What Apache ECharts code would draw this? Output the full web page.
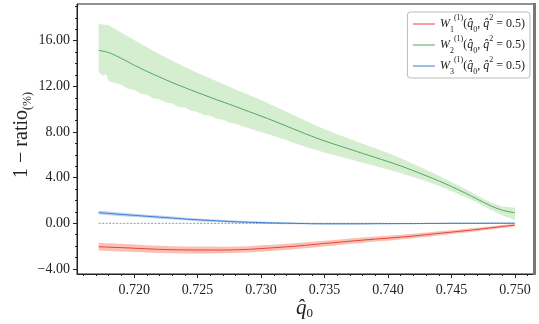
<!DOCTYPE html>
<html lang="en">
<head>
    <meta charset="UTF-8">
    <title>1 - ratio</title>
    <style>
        html, body { margin: 0; padding: 0; background: #fff; }
    </style>
</head>
<body>
<div id="main" style="width: 539px;height:324px;"></div>
<script src="https://cdn.jsdelivr.net/npm/echarts@6/dist/echarts.min.js"></script>
<script type="text/javascript">
    // x values (q0 hat)
    var qs = [0.7172, 0.718, 0.719, 0.720, 0.721, 0.722, 0.723, 0.724, 0.725, 0.726, 0.727,
        0.728, 0.729, 0.730, 0.731, 0.732, 0.733, 0.734, 0.735, 0.736, 0.737, 0.738,
        0.739, 0.740, 0.741, 0.742, 0.743, 0.744, 0.745, 0.746, 0.747, 0.748, 0.749, 0.750];

    // W1 (red)
    var w1 = [-2.05, -2.09, -2.13, -2.18, -2.23, -2.28, -2.31, -2.33, -2.34, -2.34, -2.34,
        -2.32, -2.28, -2.21, -2.14, -2.06, -1.97, -1.87, -1.77, -1.67, -1.57, -1.47,
        -1.38, -1.30, -1.21, -1.11, -1.00, -0.88, -0.77, -0.66, -0.54, -0.41, -0.28, -0.16];
    var w1Err = [0.34, 0.34, 0.33, 0.33, 0.32, 0.32, 0.31, 0.31, 0.30, 0.30, 0.29,
        0.29, 0.28, 0.28, 0.27, 0.27, 0.26, 0.26, 0.25, 0.24, 0.24, 0.23,
        0.22, 0.22, 0.21, 0.20, 0.19, 0.18, 0.17, 0.16, 0.15, 0.14, 0.13, 0.12];

    // W2 (green)
    var w2 = [15.16, 14.96, 14.45, 13.86, 13.32, 12.82, 12.34, 11.89, 11.46, 11.04, 10.63,
        10.23, 9.81, 9.40, 8.97, 8.52, 8.07, 7.63, 7.22, 6.85, 6.49, 6.13,
        5.77, 5.41, 5.03, 4.61, 4.17, 3.72, 3.22, 2.70, 2.14, 1.58, 1.15, 0.92];
    var w2Hi = [17.46, 17.35, 16.69, 16.06, 15.42, 14.82, 14.24, 13.69, 13.18, 12.69, 12.21,
        11.73, 11.26, 10.80, 10.29, 9.77, 9.25, 8.73, 8.24, 7.80, 7.39, 6.98,
        6.57, 6.16, 5.71, 5.21, 4.69, 4.17, 3.62, 3.05, 2.46, 1.88, 1.47, 1.37];
    // lower edge of the green band is noisy, read on a finer grid
    var w2LoQ = [0.7172, 0.7175, 0.7178, 0.718, 0.7185, 0.719, 0.7195, 0.720, 0.7205, 0.721,
        0.7215, 0.722, 0.7225, 0.723, 0.7235, 0.724, 0.7245, 0.725, 0.7255, 0.726, 0.7265,
        0.727, 0.7275, 0.728, 0.7285, 0.729, 0.7295, 0.730, 0.731, 0.732, 0.733, 0.734,
        0.735, 0.736, 0.737, 0.738, 0.739, 0.740, 0.741, 0.742, 0.743, 0.744, 0.745,
        0.746, 0.747, 0.748, 0.749, 0.750];
    var w2Lo = [13.31, 12.95, 13.05, 12.46, 12.30, 12.15, 11.80, 11.71, 11.38, 11.27,
        10.95, 10.87, 10.58, 10.49, 10.20, 10.14, 9.86, 9.76, 9.50, 9.42, 9.17,
        9.08, 8.84, 8.73, 8.50, 8.36, 8.15, 8.00, 7.65, 7.27, 6.89, 6.53,
        6.20, 5.90, 5.61, 5.31, 5.02, 4.71, 4.41, 4.06, 3.69, 3.30, 2.84,
        2.36, 1.84, 1.23, 0.70, 0.30];

    // W3 (blue)
    var w3 = [0.94, 0.87, 0.78, 0.70, 0.62, 0.54, 0.46, 0.38, 0.31, 0.25, 0.19,
        0.14, 0.10, 0.06, 0.03, 0.01, -0.01, -0.03, -0.04, -0.04, -0.04, -0.04,
        -0.03, -0.03, -0.02, -0.02, -0.01, -0.01, 0.00, 0.00, 0.00, 0.01, 0.01, 0.01];
    var w3Err = [0.16, 0.16, 0.15, 0.15, 0.14, 0.14, 0.13, 0.12, 0.12, 0.11, 0.10,
        0.10, 0.09, 0.09, 0.08, 0.08, 0.07, 0.07, 0.07, 0.06, 0.06, 0.06,
        0.06, 0.05, 0.05, 0.05, 0.05, 0.05, 0.05, 0.05, 0.05, 0.05, 0.05, 0.05];

    var xTicks = [0.720, 0.725, 0.730, 0.735, 0.740, 0.745, 0.750];
    var yTicks = [-4, 0, 4, 8, 12, 16];
    var zeroLine = [[0.7172, 0], [0.750, 0]];

    var names = ['W1', 'W2', 'W3'];
    var colors = ['#e8423b', '#4fa95c', '#3d7fd3'];
    var bandColors = ['rgba(248,140,118,0.55)', 'rgba(170,222,160,0.5)', 'rgba(120,170,230,0.5)'];

    var minorX = [];
    for (var i = 716; i <= 751; i++) minorX.push(i / 1000);
    var minorY = [];
    for (var j = -4; j <= 19; j++) minorY.push(j);

    var font = "'Liberation Serif', 'DejaVu Serif', serif";

    function pairs(xv, yv) {
        return xv.map(function (x, k) { return [x, yv[k]]; });
    }
    function bandSeries(upper, lower, color) {
        // upper and lower are lists of [x, y]
        return {
            type: 'custom',
            silent: true,
            z: 1,
            data: [0],
            renderItem: function (params, api) {
                var pts = [];
                upper.forEach(function (p) { pts.push(api.coord(p)); });
                for (var k = lower.length - 1; k >= 0; k--) pts.push(api.coord(lower[k]));
                return {
                    type: 'polygon',
                    shape: { points: pts, smooth: 0 },
                    style: { fill: color, stroke: null }
                };
            }
        };
    }
    function lineSeries(name, yv, color) {
        return {
            name: name,
            type: 'line',
            data: pairs(qs, yv),
            symbol: 'none',
            smooth: 0.3,
            z: 3,
            lineStyle: { color: color, width: 1 },
            itemStyle: { color: color }
        };
    }

    var myChart = echarts.init(document.getElementById("main"));

    var legendRich = {
        w: { fontFamily: font, fontStyle: 'italic', fontSize: 12, lineHeight: 20, color: '#222' },
        sub: { fontFamily: font, fontSize: 8, lineHeight: 20, verticalAlign: 'bottom', color: '#222' },
        sup: { fontFamily: font, fontSize: 8, lineHeight: 20, verticalAlign: 'top', color: '#222' },
        t: { fontFamily: font, fontSize: 12, lineHeight: 20, color: '#222' }
    };

    var option = {
        animation: false,
        grid: { left: 77, right: 5, top: 4, bottom: 50, show: true, borderColor: '#222', borderWidth: 1 },
        xAxis: [{
            type: 'value',
            min: 0.7155,
            max: 0.7515,
            splitLine: { show: false },
            axisLine: { onZero: false, lineStyle: { color: '#222', width: 1 } },
            axisTick: { customValues: xTicks, length: 4, lineStyle: { color: '#222' } },
            axisLabel: {
                customValues: xTicks,
                formatter: function (v) { return v.toFixed(3); },
                fontFamily: font, fontSize: 14, color: '#222', margin: 9
            }
        }, {
            type: 'value',
            position: 'bottom',
            min: 0.7155,
            max: 0.7515,
            splitLine: { show: false },
            axisLine: { show: false, onZero: false },
            axisTick: { customValues: minorX, length: 2, lineStyle: { color: '#222' } },
            axisLabel: { show: false }
        }],
        yAxis: [{
            type: 'value',
            min: -4.44,
            max: 19.22,
            splitLine: { show: false },
            axisLine: { onZero: false, lineStyle: { color: '#222', width: 1 } },
            axisTick: { customValues: yTicks, length: 4, lineStyle: { color: '#222' } },
            axisLabel: {
                customValues: yTicks,
                formatter: function (v) { return (v < 0 ? '\u2212' : '') + Math.abs(v).toFixed(2); },
                fontFamily: font, fontSize: 14, color: '#222', margin: 7
            }
        }, {
            type: 'value',
            position: 'left',
            min: -4.44,
            max: 19.22,
            splitLine: { show: false },
            axisLine: { show: false, onZero: false },
            axisTick: { customValues: minorY, length: 2, lineStyle: { color: '#222' } },
            axisLabel: { show: false }
        }],
        legend: {
            data: names,
            right: 9,
            top: 12,
            orient: 'vertical',
            itemWidth: 22,
            itemHeight: 10,
            itemGap: 1,
            padding: [2, 5, 2, 5],
            backgroundColor: '#fff',
            borderColor: '#bbb',
            borderWidth: 1,
            borderRadius: 3,
            itemStyle: { opacity: 0 },
            lineStyle: { width: 1 },
            formatter: function (name) {
                var idx = name.charAt(1);
                return '{w|W}{sub|' + idx + '}{sup|(1)}{t|(}{w|q\u0302}{sub|0}{t|, }{w|q\u0302}{sup|2}{t| = 0.5)}';
            },
            textStyle: { rich: legendRich }
        },
        graphic: [{
            type: 'text',
            left: 12,
            top: 92,
            rotation: Math.PI / 2,
            style: {
                text: '1 \u2212 ratio{s|(%)}',
                font: "20px 'Liberation Serif', serif",
                fill: '#222',
                rich: { s: { fontFamily: font, fontSize: 12, verticalAlign: 'bottom', lineHeight: 24 } }
            }
        }, {
            type: 'text',
            left: 296,
            top: 298,
            style: {
                text: '{q|q\u0302}{s|0}',
                rich: {
                    q: { fontFamily: font, fontStyle: 'italic', fontSize: 21, lineHeight: 24, fill: '#222' },
                    s: { fontFamily: font, fontSize: 13, lineHeight: 24, verticalAlign: 'bottom', fill: '#222' }
                }
            }
        }, {
            type: 'rect',
            left: 533,
            top: 3,
            shape: { width: 3, height: 272 },
            style: { fill: '#777' },
            z: 10
        }],
        series: [
            bandSeries(pairs(qs, w1.map(function (v, k) { return v + w1Err[k]; })),
                pairs(qs, w1.map(function (v, k) { return v - w1Err[k]; })), bandColors[0]),
            bandSeries(pairs(qs, w2Hi), pairs(w2LoQ, w2Lo), bandColors[1]),
            bandSeries(pairs(qs, w3.map(function (v, k) { return v + w3Err[k]; })),
                pairs(qs, w3.map(function (v, k) { return v - w3Err[k]; })), bandColors[2]),
            {
                type: 'line',
                data: zeroLine,
                symbol: 'none',
                silent: true,
                z: 2,
                lineStyle: { color: '#999', width: 1, type: [2, 1.5] }
            },
            lineSeries(names[0], w1, colors[0]),
            lineSeries(names[1], w2, colors[1]),
            lineSeries(names[2], w3, colors[2])
        ]
    };

    myChart.setOption(option);
</script>
</body>
</html>
